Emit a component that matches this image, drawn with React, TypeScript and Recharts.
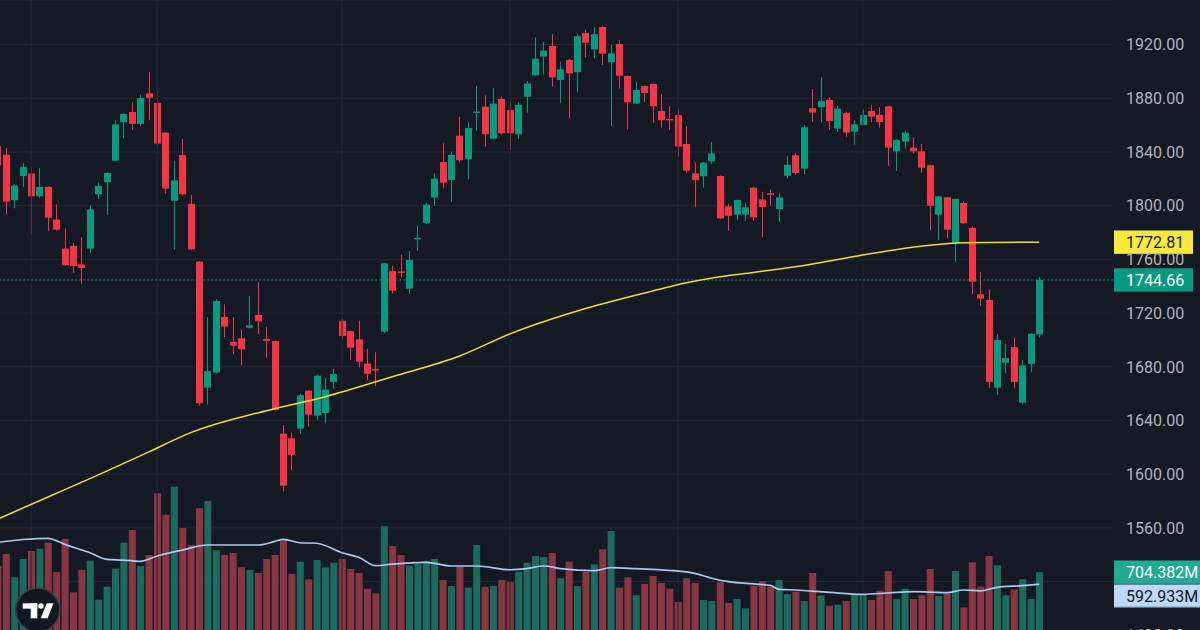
import React from 'react';
import { ComposedChart, Bar, Line, XAxis, YAxis, CartesianGrid, ReferenceLine, Cell } from 'recharts';

// daily candles, oldest first (index 0 sits half off the left edge)
const open = [
  1844.5, 1838, 1804, 1822, 1824, 1807, 1814, 1789.6, 1768, 1770,
  1756.3, 1768, 1808.5, 1817.4, 1833.5, 1862.1, 1869.8, 1860.9, 1883.7, 1876.5,
  1854.4, 1803.7, 1837.8, 1801.3, 1758.3, 1664.4, 1675.6, 1717.1, 1698.5, 1701.2,
  1709.1, 1718.6, 1700.7, 1699.2, 1630.2, 1626.7, 1633.9, 1662.2, 1643.6, 1645.6,
  1668.7, 1714.3, 1706.6, 1700.5, 1682.3, 1678.3, 1706.1, 1751.4, 1751, 1738.2,
  1775, 1787.1, 1806, 1832.5, 1819.1, 1852.1, 1834.6, 1869.5, 1873.7, 1849.9,
  1879.5, 1871.3, 1853.2, 1881.2, 1897.1, 1911, 1919, 1893.6, 1908.5, 1899.4,
  1928.6, 1916.4, 1933.1, 1906.8, 1920.4, 1896.6, 1876, 1889.2, 1890.7, 1870.5,
  1864.6, 1867.6, 1846, 1824.1, 1821.9, 1833, 1822.1, 1799.5, 1793.3, 1793.3,
  1813.4, 1804.7, 1809.2, 1797.5, 1822.3, 1837.5, 1827.6, 1872.6, 1873.3, 1878.7,
  1857.4, 1869, 1855.1, 1860.1, 1870.5, 1867.6, 1874, 1840.5, 1847.7, 1843.2,
  1840.5, 1830.1, 1793.3, 1806.2, 1772, 1802, 1783.4, 1734, 1729.8, 1664.4,
  1683, 1694.7, 1653.3, 1682.1, 1704.2,
];
const high = [
  1847, 1843, 1816, 1832, 1829, 1828, 1814.5, 1801, 1783, 1772,
  1776.4, 1800, 1817, 1825, 1863.8, 1868.8, 1876.7, 1882.5, 1899.6, 1885.7,
  1854.8, 1833.3, 1849.7, 1808, 1758.8, 1717.1, 1730.5, 1726.5, 1717, 1707.4,
  1732.7, 1743.2, 1709.7, 1699.6, 1636.6, 1630.9, 1659.7, 1662.6, 1674.1, 1671.9,
  1678.3, 1715.6, 1707, 1714.3, 1693.5, 1690.8, 1757.5, 1755.3, 1763.3, 1766.3,
  1784.9, 1802, 1824.1, 1846.5, 1840.2, 1866.1, 1862.1, 1889.2, 1882.2, 1887.7,
  1881.5, 1877.2, 1876.7, 1892.9, 1925.4, 1921.9, 1927.7, 1907.3, 1909.3, 1928.1,
  1930.9, 1932.9, 1933.9, 1919.7, 1923.4, 1897, 1891.9, 1889.5, 1891, 1883,
  1874, 1871.8, 1859.4, 1832.3, 1832.4, 1847.4, 1822.5, 1801.3, 1804.6, 1801.8,
  1814.1, 1810.4, 1811.9, 1809.2, 1837, 1839, 1859.9, 1886.9, 1895.6, 1880.7,
  1874.5, 1869.8, 1863.6, 1871.8, 1874.8, 1873.5, 1874.5, 1849.4, 1855.9, 1851,
  1846, 1830.5, 1807.3, 1806.5, 1805.3, 1803.5, 1784.4, 1750.6, 1737.7, 1704.2,
  1697, 1701.4, 1685, 1705, 1746.7,
];
const low = [
  1826, 1794, 1798, 1814, 1779, 1806, 1781, 1781.5, 1755, 1750,
  1741.9, 1764.5, 1805, 1793, 1833, 1850.2, 1856.6, 1859.4, 1863.6, 1844.7,
  1809.2, 1767.5, 1807.2, 1767, 1651, 1651.8, 1675, 1702, 1689.5, 1681.1,
  1708.4, 1704, 1686.8, 1647.3, 1587.2, 1603.1, 1630.2, 1635.4, 1640.6, 1637.9,
  1663.5, 1700.7, 1685, 1679.6, 1670.2, 1665.7, 1705, 1734.5, 1746.7, 1734.2,
  1766.3, 1786.5, 1799.8, 1813, 1803, 1832.3, 1819.7, 1855.9, 1844, 1849.5,
  1852.9, 1841.5, 1849.7, 1869.3, 1896.8, 1897.9, 1888.6, 1876.3, 1865.5, 1884.5,
  1910.5, 1909.8, 1904.8, 1859.4, 1887.2, 1856.9, 1875.7, 1876.7, 1861.6, 1858.1,
  1856.6, 1836.5, 1824.6, 1798.8, 1813.4, 1830.8, 1790, 1781.2, 1789.6, 1788.6,
  1788.8, 1776.4, 1800, 1788.1, 1820.4, 1823.1, 1823.1, 1862.6, 1862.1, 1856.6,
  1855.1, 1851.2, 1845.4, 1859.8, 1862, 1858.1, 1829.6, 1825.8, 1842.5, 1839,
  1824.4, 1781.9, 1774.4, 1775.7, 1757.8, 1786.5, 1734, 1725.5, 1664.2, 1659,
  1675.2, 1664, 1652, 1675.9, 1702,
];
const close = [
  1830, 1803, 1815, 1829, 1807, 1814, 1791, 1782.1, 1755.6, 1755,
  1753.6, 1797.3, 1814.7, 1824.4, 1860.6, 1868.3, 1860.9, 1880.2, 1880.4, 1846.2,
  1812.7, 1818.9, 1808.5, 1767.5, 1652.8, 1676.8, 1729, 1709.9, 1695.7, 1693,
  1710.9, 1713.9, 1699.4, 1647.8, 1591.4, 1614.3, 1658.8, 1644.3, 1673.4, 1663,
  1674.6, 1702.9, 1694.2, 1683.8, 1674.8, 1677.8, 1757.1, 1736.7, 1750.5, 1759.6,
  1776, 1800.8, 1820.1, 1817.1, 1837.8, 1833.8, 1857.8, 1870.2, 1853.2, 1876,
  1853.9, 1853.9, 1875.2, 1891, 1909.5, 1915.5, 1895.6, 1901.6, 1898.6, 1926.2,
  1921.4, 1927.8, 1913.2, 1913.5, 1896.8, 1877, 1886.2, 1883.9, 1874, 1863.6,
  1864.2, 1844, 1826.1, 1819.1, 1832, 1838.9, 1790.6, 1792.5, 1804.2, 1798.8,
  1791.3, 1799, 1808.8, 1806.2, 1830.5, 1824.4, 1858.4, 1869.3, 1878, 1863.1,
  1872.3, 1854.4, 1860.6, 1867.6, 1866.3, 1862.3, 1843.2, 1849, 1854.4, 1840.5,
  1828.3, 1800, 1807, 1782.1, 1805, 1786.9, 1743.4, 1730.7, 1668.7, 1700,
  1686.5, 1668.7, 1681, 1704.6, 1744.66,
];
// volume in millions
const volume = [
  762, 873, 657, 827, 901, 922, 978, 706, 1013, 517,
  727, 811, 449, 569, 737, 978, 1096, 762, 864, 1437,
  1238, 1498, 1115, 957, 1298, 1366, 908, 864, 883, 750,
  725, 697, 827, 864, 1003, 687, 802, 638, 818, 750,
  792, 827, 734, 697, 551, 508, 1133, 948, 864, 765,
  780, 808, 827, 632, 576, 755, 560, 957, 569, 576,
  632, 613, 709, 792, 855, 845, 883, 648, 802, 576,
  709, 778, 917, 1087, 560, 657, 490, 595, 669, 604,
  551, 427, 648, 604, 446, 437, 613, 418, 455, 369,
  579, 620, 569, 632, 499, 523, 437, 697, 490, 393,
  402, 437, 499, 499, 446, 532, 715, 455, 551, 455,
  490, 734, 483, 508, 715, 378, 796, 569, 855, 768,
  490, 542, 638, 455, 704.382,
];
// long moving average of price, read at some candles: [candle index, value]
const priceMa: [number, number][] = [
  [0, 1566.5], [6, 1583], [12, 1599.5], [18, 1616.6], [23, 1630.9], [32, 1647.3],
  [39, 1657.7], [47, 1672.6], [55, 1688], [61, 1704.5], [70, 1723.4], [78, 1736.5],
  [82, 1742.5], [86, 1747], [90, 1750.3], [96, 1755.5], [103, 1763.3], [111, 1770.5],
  [115, 1772.4], [124, 1772.81],
];
// volume moving average (millions)
const volumeMa: [number, number][] = [
  [0, 982], [3, 1008], [6, 1019], [8, 963], [11, 885], [13, 824], [15, 817], [17, 805],
  [19, 855], [22, 910], [25, 957], [31, 957], [33, 990], [34, 1010], [36, 978], [38, 973],
  [41, 885], [43, 843], [45, 765], [47, 780], [51, 796], [54, 762], [57, 762], [61, 727],
  [63, 737], [65, 762], [67, 737], [71, 718], [73, 746], [76, 737], [79, 725], [83, 694],
  [85, 648], [87, 616], [90, 595], [92, 582], [93, 545], [95, 539], [99, 517], [103, 499],
  [106, 511], [109, 523], [113, 514], [115, 539], [117, 530], [119, 564], [122, 579],
  [124, 592.933],
];
const monthStarts = [4, 19, 41, 61, 81, 103];
const priceTicks = [1480, 1520, 1560, 1600, 1640, 1680, 1720, 1760, 1800, 1840, 1880, 1920];
// tick labels hidden behind the volume tags on the scale
const coveredTicks = [1520];

const BG = '#151924';
const GRID = '#252935';
const UP = '#089981';
const DOWN = '#F23645';
const FONT = 'Roboto, "Liberation Sans", sans-serif';

const maMap = new Map(priceMa);
const vmaMap = new Map(volumeMa);
const rows = open.map((o, i) => ({
  i,
  open: o,
  high: high[i],
  low: low[i],
  close: close[i],
  range: [low[i], high[i]],
  volume: volume[i],
  ma: maMap.has(i) ? maMap.get(i) : null,
  volMa: vmaMap.has(i) ? vmaMap.get(i) : null,
}));
const last = rows[rows.length - 1];

// x domain: 8.4px per candle over a 1113px plot, first candle at x = -2.4
const X_MIN = 2.4 / 8.4;
const X_MAX = X_MIN + 1113 / 8.4;

const Candle = (p: any) => {
  const { x, y, width, height, payload } = p;
  if (!payload || x == null) return null;
  const top = Math.min(y, y + height);
  const h = Math.abs(height);
  const k = h / (payload.high - payload.low || 1);
  const yO = top + (payload.high - payload.open) * k;
  const yC = top + (payload.high - payload.close) * k;
  const col = payload.close >= payload.open ? UP : DOWN;
  const bx = Math.round(x);
  const cx = bx + width / 2;
  return (
    <g>
      <line x1={cx} x2={cx} y1={top} y2={top + h} stroke={col} strokeWidth={1} />
      <rect x={bx} y={Math.min(yO, yC)} width={width} height={Math.max(1.5, Math.abs(yO - yC))} fill={col} />
    </g>
  );
};

const PriceTick = (p: any) => {
  const v = p.payload?.value;
  if (v == null || coveredTicks.includes(v)) return null;
  return (
    <text x={p.x} y={p.y} dy="0.36em" textAnchor="start" fill="#b2b5be" fontSize={16} fontFamily={FONT}>
      {Number(v).toFixed(2)}
    </text>
  );
};

const tag = (text: string, bg: string, fg: string, w: number, dy = 0, border?: string) => (props: any) => {
  const vb = props.viewBox;
  if (!vb) return null;
  const x = vb.x + vb.width + 1;
  const y = vb.y + dy;
  return (
    <g>
      <rect x={x} y={y - 11.7} width={w} height={23.4} fill={bg} />
      {border && <line x1={x} x2={x + w} y1={y + 11.2} y2={y + 11.2} stroke={border} strokeWidth={1.2} />}
      <text x={x + 12} y={y} dy="0.36em" fill={fg} fontSize={16} fontFamily={FONT}>{text}</text>
    </g>
  );
};

export default function App() {
  return (
    <div style={{ position: 'fixed', left: 0, top: 0, width: 1200, height: 630, overflow: 'hidden', background: BG }}>
      <ComposedChart width={1200} height={648} data={rows} margin={{ top: 0, right: 0, bottom: 0, left: 0 }}>
        <XAxis xAxisId="c" dataKey="i" type="number" domain={[X_MIN, X_MAX]} allowDataOverflow hide />
        <XAxis xAxisId="v" dataKey="i" type="number" domain={[X_MIN, X_MAX]} allowDataOverflow hide />
        <YAxis
          yAxisId="price"
          orientation="right"
          domain={[1470.5, 1953.2]}
          ticks={priceTicks}
          allowDataOverflow
          width={87}
          axisLine={false}
          tickLine={false}
          tickMargin={7}
          tick={PriceTick}
        />
        <YAxis yAxisId="vol" domain={[0, 6020]} allowDataOverflow hide />
        <CartesianGrid xAxisId="c" yAxisId="price" vertical={false} stroke={GRID} strokeWidth={1} />
        {monthStarts.map((m) => (
          <ReferenceLine key={m} xAxisId="c" yAxisId="price" x={m} stroke={GRID} strokeWidth={1} />
        ))}
        <Bar xAxisId="v" yAxisId="vol" dataKey="volume" barSize={7} isAnimationActive={false}>
          {rows.map((r) => (
            <Cell key={r.i} fill={r.close >= r.open ? '#1c695d' : '#883643'} />
          ))}
        </Bar>
        <Line
          xAxisId="v"
          yAxisId="vol"
          type="monotone"
          dataKey="volMa"
          connectNulls
          dot={false}
          activeDot={false}
          stroke="#aac8ee"
          strokeWidth={1.7}
          isAnimationActive={false}
        />
        <ReferenceLine
          xAxisId="c"
          yAxisId="price"
          y={last.close}
          stroke={UP}
          strokeDasharray="1.5 2.5"
          strokeWidth={1}
          label={tag(last.close.toFixed(2), UP, '#ffffff', 79)}
        />
        <Bar xAxisId="c" yAxisId="price" dataKey="range" barSize={7} shape={Candle} isAnimationActive={false} />
        <Line
          xAxisId="c"
          yAxisId="price"
          type="monotone"
          dataKey="ma"
          connectNulls
          dot={false}
          activeDot={false}
          stroke="#f2dc30"
          strokeWidth={1.5}
          isAnimationActive={false}
        />
        <ReferenceLine
          xAxisId="c"
          yAxisId="price"
          y={priceMa[priceMa.length - 1][1]}
          stroke="none"
          label={tag(priceMa[priceMa.length - 1][1].toFixed(2), '#fbe83b', '#131722', 79)}
        />
        <ReferenceLine
          xAxisId="v"
          yAxisId="vol"
          y={last.volume}
          stroke="none"
          label={tag(last.volume.toFixed(3) + 'M', '#22ab94', '#ffffff', 87)}
        />
        <ReferenceLine
          xAxisId="v"
          yAxisId="vol"
          y={volumeMa[volumeMa.length - 1][1]}
          stroke="none"
          label={tag(volumeMa[volumeMa.length - 1][1].toFixed(3) + 'M', '#bbd9fb', '#131722', 87, 12, '#5d6b85')}
        />
      </ComposedChart>
      {/* watermark logo */}
      <svg width={80} height={60} style={{ position: 'absolute', left: 0, top: 580 }}>
        <circle cx={37.7} cy={30} r={22} fill="#131722" stroke="#3b3f4b" strokeWidth={1.6} />
        <rect x={22.7} y={23.3} width={14.6} height={5.4} fill="#ffffff" />
        <rect x={30.7} y={23.3} width={6.6} height={15} fill="#ffffff" />
        <circle cx={41} cy={26} r={2.7} fill="#ffffff" />
        <polygon points="46.7,23.3 53.5,23.3 47.6,38.3 40.8,38.3" fill="#ffffff" />
      </svg>
    </div>
  );
}
